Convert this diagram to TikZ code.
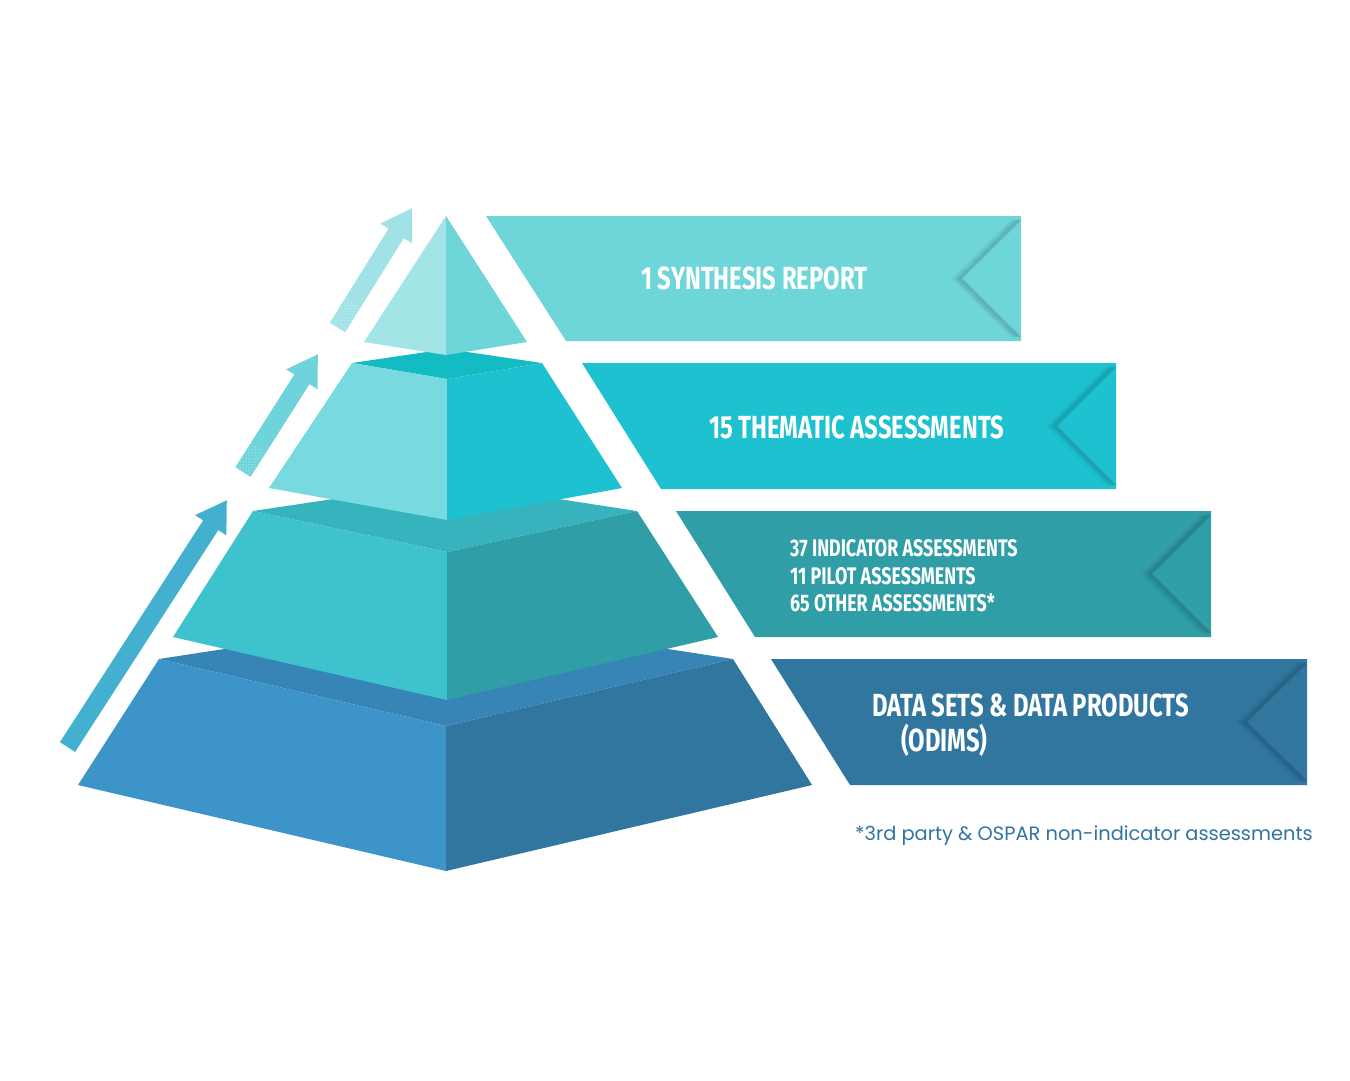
\documentclass[tikz,border=0pt]{standalone}
\usepackage{fontspec}
\usetikzlibrary{arrows.meta,patterns}
\newfontfamily\condfont[FakeStretch=0.745]{Fira Sans}
\newfontfamily\footfont{Poppins}
\definecolor{topL}{HTML}{A3E4E7}
\definecolor{topR}{HTML}{6ED5D8}
\definecolor{upL}{HTML}{79D9E0}
\definecolor{upR}{HTML}{1EC1CF}
\definecolor{upT}{HTML}{12BCC2}
\definecolor{midL}{HTML}{3EC2CE}
\definecolor{midR}{HTML}{2F9EA6}
\definecolor{midT}{HTML}{37B3BD}
\definecolor{botL}{HTML}{3D94C9}
\definecolor{botR}{HTML}{30769F}
\definecolor{botT}{HTML}{3784B6}
\definecolor{arrA}{HTML}{42B0CE}
\definecolor{arrB}{HTML}{6FD3DB}
\definecolor{arrC}{HTML}{A0E2E6}
\definecolor{footC}{HTML}{2F75A0}
\newcommand{\notchshade}[4]{%
  \foreach \d/\o in {0/.05,1/.09,2/.09,3/.08,4/.07,5/.06,6/.05,7/.04,8/.03,9/.02,10/.01}{
    \draw[black,opacity=\o,line width=1.2,line join=miter]
      ([xshift=-\d]#1,#2+4) -- ([xshift=-\d]#4,{(#2+#3)/2}) -- ([xshift=-\d]#1,#3-4);
  }}
\begin{document}
\begin{tikzpicture}[x=1pt,y=-1pt,
  bigtxt/.style={text=white,inner sep=0,anchor=base west,font=\condfont\bfseries\fontsize{32}{36}\selectfont},
  smalltxt/.style={text=white,inner sep=0,anchor=base west,font=\condfont\bfseries\fontsize{24}{28}\selectfont},
  foottxt/.style={text=footC,inner sep=0,anchor=base west,font=\footfont\fontsize{19.4}{22}\selectfont},
  upArrow/.style={line width=18,-{Triangle[width=35,length=30]}}]
\useasboundingbox (0,0) rectangle (1350,1080);
\fill[white] (0,0) rectangle (1350,1080);

% ---- bottom tier
\fill[botT] (159,659) -- (446,615) -- (733,659) -- (446,726) -- cycle;
\fill[botL] (159,659) -- (446,726) -- (446,871) -- (78,785) -- cycle;
\fill[botR] (446,726) -- (733,659) -- (812,785) -- (446,871) -- cycle;
% ---- middle tier
\fill[midT] (253,511) -- (447,482) -- (637,511) -- (447,552) -- cycle;
\fill[midL] (253,511) -- (447,552) -- (447,700) -- (173,637) -- cycle;
\fill[midR] (447,552) -- (637,511) -- (718,637) -- (447,700) -- cycle;
% ---- upper tier
\fill[upT] (352,363) -- (447,349) -- (542,363) -- (447,379) -- cycle;
\fill[upL] (352,363) -- (447,379) -- (447,520) -- (269,488) -- cycle;
\fill[upR] (447,379) -- (542,363) -- (622,488) -- (447,520) -- cycle;
% ---- top pyramid
\fill[topL] (446,216) -- (364,342) -- (446,355) -- cycle;
\fill[topR] (446,216) -- (527,342) -- (446,355) -- cycle;

% ---- arrows
\coordinate (a1s) at (67.5,747);  \coordinate (a1e) at (227,500);
\coordinate (a2s) at (243,472);   \coordinate (a2e) at (318,354);
\coordinate (a3s) at (337.5,327.5); \coordinate (a3e) at (412,208);
\draw[upArrow,arrA] (a1s) -- (a1e);
\draw[upArrow,arrB] (a2s) -- (a2e);
\draw[upArrow,arrC] (a3s) -- (a3e);
\fill[pattern=dots,pattern color=white] (250.6,476.8) -- (235.4,467.2) -- (251.4,442.2) -- (266.6,451.8) -- cycle;
\fill[pattern=dots,pattern color=white] (345.1,332.3) -- (329.9,322.7) -- (345.7,297.2) -- (360.9,306.8) -- cycle;

% ---- banners
\fill[topR] (486,216) -- (1021,216) -- (1021,341) -- (566,341) -- cycle;
\notchshade{1021}{216}{341}{962}
\fill[upR] (582,363) -- (1116,363) -- (1116,489) -- (661,489) -- cycle;
\notchshade{1116}{363}{489}{1057}
\fill[midR] (676,511) -- (1211,511) -- (1211,637) -- (755,637) -- cycle;
\notchshade{1211}{511}{637}{1152}
\fill[botR] (771,659) -- (1307,659) -- (1307,785) -- (850,785) -- cycle;
\notchshade{1307}{659}{785}{1247}

% ---- texts
\node[bigtxt] (t1) at (641,289) {1 SYNTHESIS REPORT};
\node[bigtxt] (t2) at (709,438) {15 THEMATIC ASSESSMENTS};
\node[smalltxt] (t3a) at (790,556) {37 INDICATOR ASSESSMENTS};
\node[smalltxt] (t3b) at (790,584) {11 PILOT ASSESSMENTS};
\node[smalltxt] (t3c) at (790,611) {65 OTHER ASSESSMENTS*};
\node[bigtxt] (t4a) at (872,716) {DATA SETS \& DATA PRODUCTS};
\node[bigtxt] (t4b) at (901,751) {(ODIMS)};
\node[foottxt] (fn) at (855,840) {*3rd party \& OSPAR non-indicator assessments};
\end{tikzpicture}
\end{document}
